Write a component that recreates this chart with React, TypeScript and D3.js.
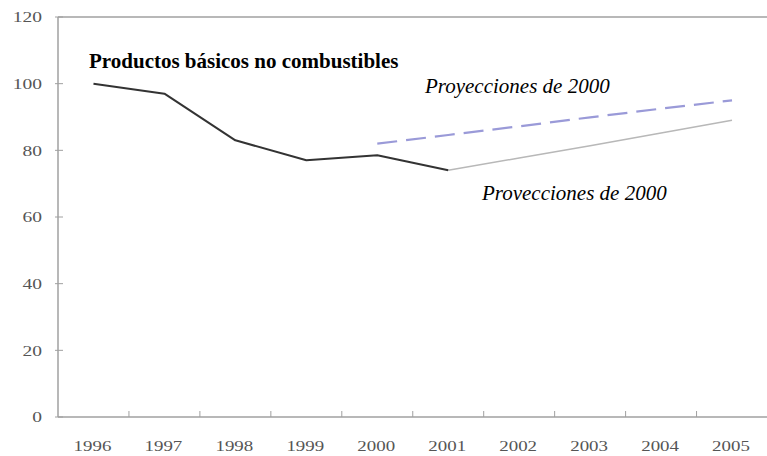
import React from "react";
import * as d3 from "d3";

const years = ["1996", "1997", "1998", "1999", "2000", "2001", "2002", "2003", "2004", "2005"];
const historical = [100, 97, 83, 77, 78.5, 74];
const histYears = ["1996", "1997", "1998", "1999", "2000", "2001"];
const projLow = [74, 77.7, 81.4, 85.2, 89];
const projLowYears = ["2001", "2002", "2003", "2004", "2005"];
const projHigh = [82, 84.6, 87.2, 89.9, 92.5, 95];
const projHighYears = ["2000", "2001", "2002", "2003", "2004", "2005"];
const yTicks = [0, 20, 40, 60, 80, 100, 120];

const W = 767, H = 456;
const left = 58, right = 767, top = 17, bottom = 417;

export default function App() {
  const x = d3.scaleBand<string>().domain(years).range([left, right + 0.5]);
  const y = d3.scaleLinear().domain([0, 120]).range([bottom, top]);
  const cx = (yr: string) => (x(yr) as number) + x.bandwidth() / 2;

  const line = d3.line<[string, number]>().x(d => cx(d[0])).y(d => y(d[1]));
  const hist = line(histYears.map((yr, i) => [yr, historical[i]]));
  const low = line(projLowYears.map((yr, i) => [yr, projLow[i]]));
  const high = line(projHighYears.map((yr, i) => [yr, projHigh[i]]));

  const serif = "Liberation Serif, DejaVu Serif, serif";
  const axisColor = "#a0a0a0";
  const labelColor = "#555";

  return (
    <svg width={W} height={H} style={{ position: "absolute", left: 0, top: 0, background: "#fff", fontFamily: serif }}>
      <defs>
        <clipPath id="clipLow">
          <rect x={0} y={0} width={W} height={200} />
        </clipPath>
      </defs>
      {/* frame */}
      <line x1={left} x2={right} y1={top} y2={top} stroke={axisColor} strokeWidth={1.5} />
      <line x1={left} x2={left} y1={top} y2={bottom} stroke={axisColor} strokeWidth={1.5} />
      <line x1={left} x2={right} y1={bottom} y2={bottom} stroke={axisColor} strokeWidth={1.5} />
      {/* y ticks */}
      {yTicks.map(t => (
        <g key={t}>
          <line x1={left - 3} x2={left + 5} y1={y(t)} y2={y(t)} stroke={axisColor} strokeWidth={1} />
          <text x={42} y={y(t)} dy="0.35em" textAnchor="end" fontSize={15} fill={labelColor}
            style={{ fontFamily: serif }}
            transform={`translate(${42},0) scale(1.3,1) translate(${-42},0)`}>{t}</text>
        </g>
      ))}
      {/* x ticks between categories */}
      {years.slice(1).map(yr => (
        <line key={yr} x1={x(yr)} x2={x(yr)} y1={bottom} y2={bottom - 6} stroke={axisColor} strokeWidth={1} />
      ))}
      {years.map(yr => (
        <text key={yr} x={cx(yr) - 1} y={446} dy="0.35em" textAnchor="middle" fontSize={14} fill={labelColor}
          style={{ fontFamily: serif }}
          transform={`translate(${cx(yr) - 1},0) scale(1.35,1) translate(${-(cx(yr) - 1)},0)`}>{yr}</text>
      ))}
      {/* lines */}
      <path d={low ?? ""} fill="none" stroke="#b8b8b8" strokeWidth={1.5} />
      <path d={high ?? ""} fill="none" stroke="#9a9ad8" strokeWidth={2.2} strokeDasharray="20 9" />
      <path d={hist ?? ""} fill="none" stroke="#333" strokeWidth={2} strokeLinejoin="round" />
      {/* annotations */}
      <text x={89} y={68} fontSize={21} fontWeight="bold" fill="#000" style={{ fontFamily: serif }}>Productos básicos no combustibles</text>
      <text x={425} y={93} fontSize={21} fontStyle="italic" fill="#000" style={{ fontFamily: serif }}>Proyecciones de 2000</text>
      <g clipPath="url(#clipLow)">
        <text x={482} y={200} fontSize={21} fontStyle="italic" fill="#000" style={{ fontFamily: serif }}>Proyecciones de 2000</text>
      </g>
    </svg>
  );
}
